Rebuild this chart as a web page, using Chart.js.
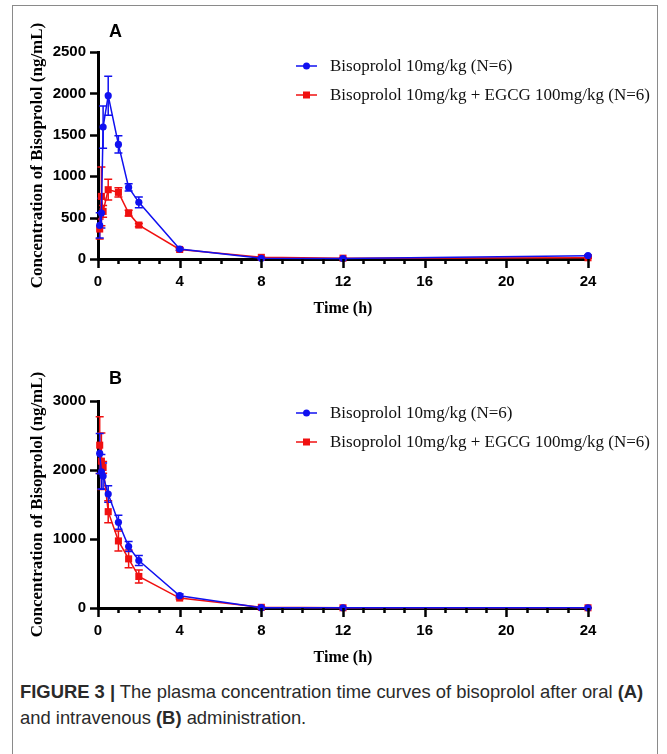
<!DOCTYPE html>
<html>
<head>
<meta charset="utf-8">
<script src="https://cdn.jsdelivr.net/npm/chart.js@4.4.0/dist/chart.umd.min.js"></script>
<style>
  body { margin: 0; background: #fff; width: 667px; height: 754px; overflow: hidden; position: relative; }
  .frame { position: absolute; left: 12px; top: 5px; width: 644px; height: 800px; border: 1px solid #8a8a8a; }
  .panel { position: absolute; left: 14px; }
  #chartA { top: 10px; }
  #chartB { top: 359px; }
  .caption { position: absolute; left: 20px; top: 679px; width: 640px; color: #2a2a2a;
    font-family: 'Liberation Sans Narrow', 'Liberation Sans', Arial, sans-serif; font-size: 18.4px; line-height: 26px; }
  .caption b { font-weight: bold; }
</style>
</head>
<body>
<div class="frame"></div>
<canvas id="chartA" class="panel" width="640" height="310"></canvas>
<canvas id="chartB" class="panel" width="640" height="310"></canvas>
<div class="caption"><b>FIGURE 3 |</b> The plasma concentration time curves of bisoprolol after oral <b>(A)</b><br>and intravenous <b>(B)</b> administration.</div>

<script>
// sampling times (h)
var times = [0.083, 0.167, 0.25, 0.5, 1, 1.5, 2, 4, 8, 12, 24];
var timeTicks = [0, 4, 8, 12, 16, 20, 24];
var seriesNames = ["Bisoprolol 10mg/kg (N=6)", "Bisoprolol 10mg/kg + EGCG 100mg/kg (N=6)"];

// A: oral, mean and SD (ng/mL)
var oralBiso   = [406, 555, 1594, 1972, 1384, 865, 684, 120, 8, 5, 40];
var oralBisoSD = [153, 180, 255, 235, 105, 45, 65, 15, 5, 3, 8];
var oralEgcg   = [362, 756, 575, 837, 805, 555, 410, 115, 20, 10, 15];
var oralEgcgSD = [120, 355, 70, 125, 55, 35, 20, 12, 5, 3, 5];

// B: intravenous, mean and SD (ng/mL)
var ivBiso   = [2240, 1974, 1912, 1652, 1243, 890, 688, 178, 5, 2, 2];
var ivBisoSD = [290, 250, 190, 120, 100, 72, 72, 25, 3, 1, 1];
var ivEgcg   = [2360, 2128, 2037, 1396, 972, 712, 457, 144, 10, 3, 3];
var ivEgcgSD = [410, 410, 85, 160, 145, 130, 95, 15, 5, 1, 1];

var BLUE = "#1010f0";
var RED = "#f01010";

function toPoints(vals) {
  return vals.map(function (v, i) { return { x: times[i], y: v }; });
}

// mean ± SD whiskers, drawn under the lines
var errorBars = {
  id: "errorBars",
  beforeDatasetsDraw: function (chart) {
    var ctx = chart.ctx, xs = chart.scales.x, ys = chart.scales.y;
    ctx.save();
    for (var d = chart.data.datasets.length - 1; d >= 0; d--) {
      var ds = chart.data.datasets[d];
      ctx.strokeStyle = ds.borderColor;
      ctx.lineWidth = 1.5;
      ds.data.forEach(function (p, j) {
        var sd = ds.sd[j];
        var px = xs.getPixelForValue(p.x);
        var top = ys.getPixelForValue(p.y + sd);
        var bot = ys.getPixelForValue(Math.max(0, p.y - sd));
        ctx.beginPath();
        ctx.moveTo(px, top); ctx.lineTo(px, bot);
        ctx.moveTo(px - 4, top); ctx.lineTo(px + 4, top);
        ctx.moveTo(px - 4, bot); ctx.lineTo(px + 4, bot);
        ctx.stroke();
      });
    }
    ctx.restore();
  }
};

// tick marks: long at labelled hours, short in between
var axisTicks = {
  id: "axisTicks",
  afterDraw: function (chart) {
    var ctx = chart.ctx, area = chart.chartArea, xs = chart.scales.x, ys = chart.scales.y;
    ctx.save();
    ctx.strokeStyle = "#000";
    ctx.lineWidth = 2.5;
    ctx.beginPath();
    xs.ticks.forEach(function (t) {
      var px = Math.round(xs.getPixelForValue(t.value)) + 0.5;
      var len = timeTicks.indexOf(t.value) >= 0 ? 9 : 5;
      ctx.moveTo(px, area.bottom); ctx.lineTo(px, area.bottom + len);
    });
    ys.ticks.forEach(function (t) {
      var py = Math.round(ys.getPixelForValue(t.value)) + 0.5;
      ctx.moveTo(area.left - 8, py); ctx.lineTo(area.left, py);
    });
    ctx.stroke();
    ctx.restore();
  }
};

// panel letter and the legend in the upper right
var panelDecor = {
  id: "panelDecor",
  afterDraw: function (chart, args, opts) {
    var ctx = chart.ctx;
    ctx.save();
    ctx.fillStyle = "#000";
    ctx.font = "bold 18px 'Liberation Sans', Arial, sans-serif";
    ctx.textAlign = "center";
    ctx.textBaseline = "middle";
    ctx.fillText(opts.letter, 101.5, opts.letterY);

    ctx.font = "17px 'Liberation Serif', 'Times New Roman', serif";
    ctx.textAlign = "left";
    chart.data.datasets.forEach(function (ds, i) {
      var y = opts.legendY + i * 29;
      ctx.strokeStyle = ds.borderColor;
      ctx.lineWidth = 1.5;
      ctx.beginPath(); ctx.moveTo(282, y); ctx.lineTo(303, y); ctx.stroke();
      ctx.fillStyle = ds.pointBackgroundColor;
      if (ds.pointStyle === "rect") {
        ctx.fillRect(289, y - 3.5, 7, 7);
      } else {
        ctx.beginPath(); ctx.arc(292.5, y, 3.5, 0, Math.PI * 2); ctx.fill();
      }
      ctx.fillStyle = "#111";
      ctx.fillText(ds.label, 316, y + 1);
    });
    ctx.restore();
  }
};

function buildPanel(id, letter, letterY, legendY, yMax, yStep, blue, blueSD, red, redSD) {
  var tickFont = { family: "'Liberation Sans', Arial, sans-serif", weight: "bold", size: 15 };
  return new Chart(document.getElementById(id).getContext("2d"), {
    type: "line",
    data: {
      datasets: [
        {
          label: seriesNames[0], data: toPoints(blue), sd: blueSD,
          borderColor: BLUE, borderWidth: 1.5, pointStyle: "circle", pointRadius: 3.6,
          pointBackgroundColor: BLUE, pointBorderColor: BLUE, pointBorderWidth: 0, clip: false
        },
        {
          label: seriesNames[1], data: toPoints(red), sd: redSD,
          borderColor: RED, borderWidth: 1.5, pointStyle: "rect", pointRadius: 5,
          pointBackgroundColor: RED, pointBorderColor: RED, pointBorderWidth: 0, clip: false
        }
      ]
    },
    options: {
      responsive: false,
      animation: false,
      layout: { padding: { top: 42, right: 66, left: 0, bottom: 0 } },
      plugins: {
        legend: { display: false },
        tooltip: { enabled: false },
        panelDecor: { letter: letter, letterY: letterY, legendY: legendY }
      },
      scales: {
        x: {
          type: "linear", min: 0, max: 24,
          afterFit: function (s) { s.height = 61; },
          ticks: {
            stepSize: 1, autoSkip: false, maxRotation: 0, color: "#000", font: tickFont, padding: 5,
            callback: function (v) { return timeTicks.indexOf(v) >= 0 ? String(v) : ""; }
          },
          grid: { drawOnChartArea: false, tickLength: 9, tickColor: "rgba(0,0,0,0)" },
          border: { color: "#000", width: 3 },
          title: {
            display: true, text: "Time (h)", color: "#000",
            font: { family: "'Liberation Serif', 'Times New Roman', serif", weight: "bold", size: 16 },
            padding: { top: 0, bottom: 2 }
          }
        },
        y: {
          min: 0, max: yMax,
          afterFit: function (s) { s.width = 84; },
          ticks: {
            stepSize: yStep, color: "#000", font: tickFont, padding: 4,
            callback: function (v) { return String(v); }
          },
          grid: { drawOnChartArea: false, tickLength: 8, tickColor: "rgba(0,0,0,0)" },
          border: { color: "#000", width: 3 },
          title: {
            display: true, text: "Concentration of Bisoprolol (ng/mL)", color: "#000",
            font: { family: "'Liberation Serif', 'Times New Roman', serif", weight: "bold", size: 17 },
            padding: { top: 13, bottom: 0 }
          }
        }
      }
    },
    plugins: [errorBars, axisTicks, panelDecor]
  });
}

buildPanel("chartA", "A", 22, 56, 2500, 500, oralBiso, oralBisoSD, oralEgcg, oralEgcgSD);
buildPanel("chartB", "B", 20, 54, 3000, 1000, ivBiso, ivBisoSD, ivEgcg, ivEgcgSD);
</script>
</body>
</html>
